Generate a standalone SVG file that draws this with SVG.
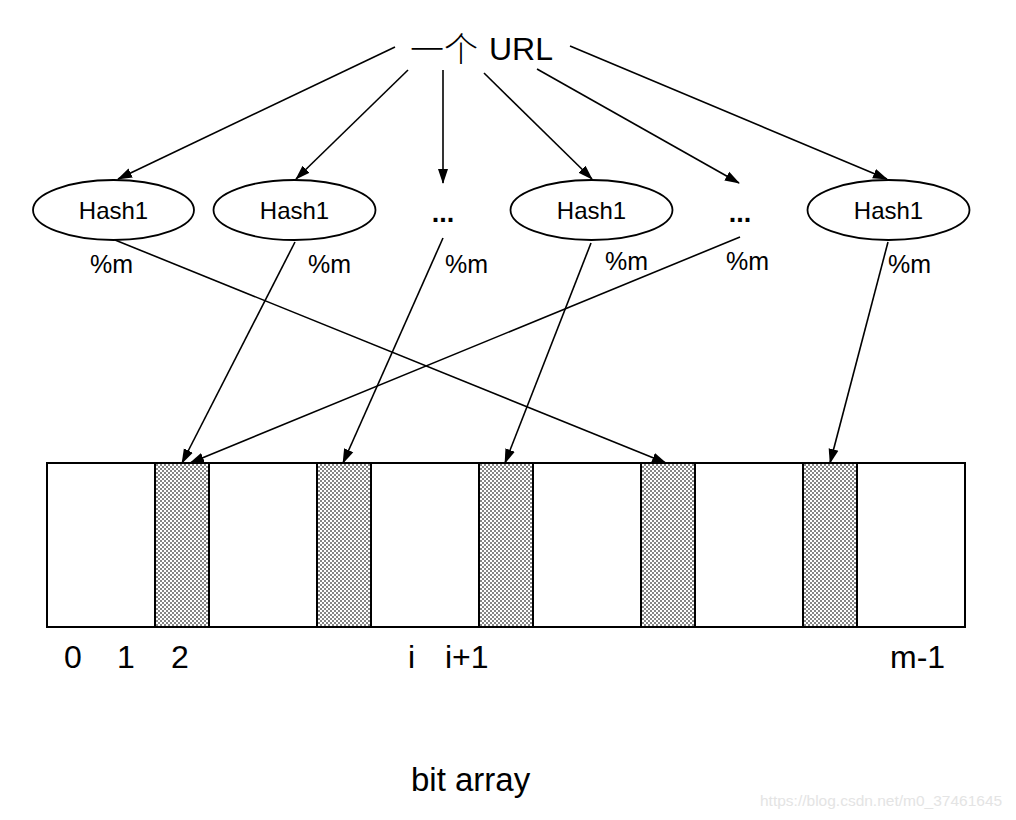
<svg xmlns="http://www.w3.org/2000/svg" width="1016" height="820" viewBox="0 0 1016 820">
<defs>
<style>
.t{font-family:"Liberation Sans",Arial,"Noto Sans CJK SC",sans-serif;fill:#000}
.cn{font-family:"Noto Sans CJK SC","Liberation Sans",sans-serif;fill:#000;font-weight:300}
.e{fill:#fff;stroke:#000;stroke-width:1.8}
.c{stroke:#000;stroke-width:1.6;fill:none;marker-end:url(#ah)}
.cell{stroke:#000;stroke-width:2}
</style>
<marker id="ah" markerUnits="userSpaceOnUse" markerWidth="15" markerHeight="12" refX="14" refY="5" orient="auto" viewBox="0 0 15 10">
<path d="M0,0 L15,5 L0,10 z" fill="#000"/>
</marker>
<pattern id="chk" width="4" height="4" patternUnits="userSpaceOnUse">
<rect width="4" height="4" fill="#fff"/>
<rect width="2" height="2" fill="#858585"/>
<rect x="2" y="2" width="2" height="2" fill="#858585"/>
</pattern>
</defs>
<rect width="1016" height="820" fill="#fff"/>

<g id="url">
<text class="cn" x="410" y="62" font-size="34">一个</text>
<text class="t" x="489" y="60" font-size="32">URL</text>
</g>

<g id="hash-a"><ellipse class="e" cx="113.5" cy="210" rx="80.5" ry="30"/><text class="t" x="113.5" y="219" font-size="24" text-anchor="middle">Hash1</text></g>
<g id="hash-b"><ellipse class="e" cx="294.5" cy="210" rx="81" ry="30"/><text class="t" x="294.5" y="219" font-size="24" text-anchor="middle">Hash1</text></g>
<g id="dots-a"><text class="t" x="443" y="222" font-size="27" font-weight="bold" text-anchor="middle">...</text></g>
<g id="hash-c"><ellipse class="e" cx="591.5" cy="210" rx="81" ry="30"/><text class="t" x="591.5" y="219" font-size="24" text-anchor="middle">Hash1</text></g>
<g id="dots-b"><text class="t" x="740" y="222" font-size="27" font-weight="bold" text-anchor="middle">...</text></g>
<g id="hash-d"><ellipse class="e" cx="888.5" cy="210" rx="81" ry="30"/><text class="t" x="888.5" y="219" font-size="24" text-anchor="middle">Hash1</text></g>

<g id="mod-labels">
<text class="t" x="90" y="273" font-size="25">%m</text>
<text class="t" x="308" y="273" font-size="25">%m</text>
<text class="t" x="445" y="273" font-size="25">%m</text>
<text class="t" x="605" y="270" font-size="25">%m</text>
<text class="t" x="726" y="270" font-size="25">%m</text>
<text class="t" x="888" y="273" font-size="25">%m</text>
</g>

<g id="bit-array">
<rect class="cell" x="47" y="463" width="918" height="164" fill="#fff"/>
<rect class="cell" x="155" y="463" width="54" height="164" fill="url(#chk)"/>
<rect class="cell" x="317" y="463" width="54" height="164" fill="url(#chk)"/>
<rect class="cell" x="479" y="463" width="54" height="164" fill="url(#chk)"/>
<rect class="cell" x="641" y="463" width="54" height="164" fill="url(#chk)"/>
<rect class="cell" x="803" y="463" width="54" height="164" fill="url(#chk)"/>
</g>

<g id="connectors">
<line class="c" x1="395" y1="47" x2="118" y2="179"/>
<line class="c" x1="408" y1="70" x2="296" y2="179"/>
<line class="c" x1="443" y1="70" x2="443" y2="183"/>
<line class="c" x1="484" y1="73" x2="592" y2="179"/>
<line class="c" x1="537" y1="69" x2="739" y2="183"/>
<line class="c" x1="570" y1="46" x2="887" y2="179"/>
<line class="c" x1="115" y1="240" x2="666" y2="463"/>
<line class="c" x1="295" y1="242" x2="182" y2="463"/>
<line class="c" x1="443" y1="238" x2="343" y2="463"/>
<line class="c" x1="591" y1="243" x2="505" y2="463"/>
<line class="c" x1="740" y1="237" x2="190" y2="463"/>
<line class="c" x1="888" y1="242" x2="830" y2="463"/>
</g>

<g id="index-labels">
<text class="t" x="64" y="668" font-size="32">0</text>
<text class="t" x="117" y="668" font-size="32">1</text>
<text class="t" x="171" y="668" font-size="32">2</text>
<text class="t" x="408" y="668" font-size="32">i</text>
<text class="t" x="445" y="668" font-size="32">i+1</text>
<text class="t" x="890" y="668" font-size="32">m-1</text>
</g>

<text class="t" x="411" y="791" font-size="33">bit array</text>
<text class="t" x="760" y="806" font-size="15.5" style="fill:#e4e4e4">https://blog.csdn.net/m0_37461645</text>
</svg>
